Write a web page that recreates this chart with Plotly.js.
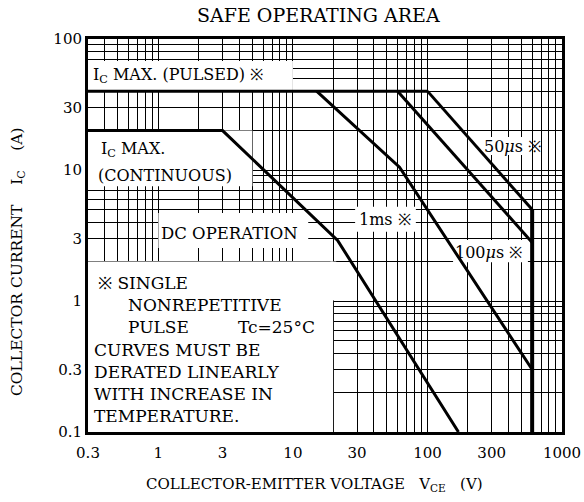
<!DOCTYPE html>
<html><head><meta charset="utf-8">
<script src="https://cdn.plot.ly/plotly-3.0.1.min.js"></script>
<style>body{margin:0;background:#fff}</style></head>
<body><div id="chart" style="width:584px;height:502px"></div>
<script>
// ---- data ----
const pulsedV = [0.3, 100];        const pulsedI = [40, 40];
const dcV     = [0.3, 3, 21.5, 170]; const dcI   = [20, 20, 2.9, 0.1];
const ms1V    = [15, 62, 600];     const ms1I    = [40, 10.5, 0.3];
const us100V  = [60, 600];         const us100I  = [40, 2.8];
const us50V   = [100, 600];        const us50I   = [40, 5];
const vmaxV   = [600, 600];        const vmaxI   = [5, 0.1];

const xTickVals = [0.3, 1, 3, 10, 30, 100, 300, 1000];
const xTickText = ['0.3', '1', '3', '10', '30', '100', '300', '1000'];
const yTickVals = [0.1, 0.3, 1, 3, 10, 30, 100];
const yTickText = ['0.1', '0.3', '1', '3', '10', '30', '100'];
const gridMult  = [1, 2, 3, 4, 5, 6, 7, 8, 9];

function minorGrid(lo, hi) {
  const out = [];
  for (let e = -2; e <= 3; e++) {
    gridMult.forEach(m => {
      const v = +(m * Math.pow(10, e)).toPrecision(3);
      if (v > lo && v < hi) out.push(v);
    });
  }
  return out;
}

const FONT = 'DejaVu Serif';
const black = '#000';

function line(x, y, w) {
  return {x: x, y: y, type: 'scatter', mode: 'lines', hoverinfo: 'skip',
          line: {color: black, width: w}, showlegend: false};
}
const traces = [
  line(pulsedV, pulsedI, 3),
  line(dcV, dcI, 3),
  line(ms1V, ms1I, 3),
  line(us100V, us100I, 3),
  line(us50V, us50I, 3),
  line(vmaxV, vmaxI, 4)
];

// white patches that hide the grid behind the printed labels
function mask(x0, x1, y0, y1) {
  return {type: 'rect', layer: 'between', xref: 'x', yref: 'y',
          x0: x0, x1: x1, y0: y0, y1: y1,
          fillcolor: '#fff', line: {width: 0}};
}
const shapes = [
  mask(0.3, 10, 40, 68),
  mask(0.3, 5, 7.5, 20),
  mask(1, 13, 2.54, 4.7),
  mask(0.3, 19.9, 0.1, 2),
  mask(19, 21, 1.01, 2),
  mask(29, 82, 3.38, 5.24),
  mask(155, 558, 1.98, 2.92),
  mask(245, 590, 13, 17.9)
];

// helper for annotations in pixel-based paper coords
const L = 88, R = 562, T = 39, B = 432;
function px(x) { return (x - L) / (R - L); }
function py(y) { return (B - y) / (B - T); }
function note(text, x, y, size, anchor) {
  return {text: text, xref: 'paper', yref: 'paper', x: px(x), y: py(y),
          xanchor: anchor || 'left', yanchor: 'middle', showarrow: false,
          font: {family: FONT, size: size || 16, color: black}};
}
const annotations = [
  {text: 'SAFE OPERATING AREA', xref: 'paper', yref: 'paper', x: px(318), y: py(15),
   xanchor: 'center', yanchor: 'middle', showarrow: false,
   font: {family: FONT, size: 19, color: black}},
  note('I<sub>C</sub> MAX. (PULSED) ※', 91, 75, 16),
  note('I<sub>C</sub> MAX.', 99, 149, 16),
  note('(CONTINUOUS)', 96, 176, 16),
  note('DC OPERATION', 159, 233, 16.5),
  note('1ms ※', 357, 220, 16),
  note('100<i>μ</i>s ※', 453, 252, 16),
  note('50<i>μ</i>s ※', 482, 146, 16),
  note('※ SINGLE', 96, 283, 17),
  note('NONREPETITIVE', 126, 305, 17),
  note('PULSE', 126, 327, 17),
  note('Tc=25°C', 236, 327, 17),
  note('CURVES MUST BE', 92, 350, 17),
  note('DERATED LINEARLY', 92, 372, 17),
  note('WITH INCREASE IN', 92, 394, 17),
  note('TEMPERATURE.', 92, 416, 17),
  {text: 'COLLECTOR-EMITTER VOLTAGE   V<sub>CE</sub>   (V)', xref: 'paper', yref: 'paper',
   x: px(314), y: py(484), xanchor: 'center', yanchor: 'middle', showarrow: false,
   font: {family: FONT, size: 15, color: black}},
  {text: 'COLLECTOR CURRENT    I<sub>C</sub>    (A)', xref: 'paper', yref: 'paper',
   x: px(18), y: py(262), xanchor: 'center', yanchor: 'middle', showarrow: false,
   textangle: -90, font: {family: FONT, size: 15.5, color: black}}
];

const axisCommon = {
  type: 'log', showgrid: true, gridcolor: '#000', gridwidth: 1,
  showline: true, mirror: true, linecolor: black, linewidth: 3,
  ticks: '', zeroline: false,
  tickfont: {family: FONT, size: 15, color: black},
  tickmode: 'array', fixedrange: true
};

const layout = {
  width: 584, height: 502,
  margin: {l: L, r: 584 - R, t: T, b: 502 - B},
  paper_bgcolor: '#fff', plot_bgcolor: '#fff',
  showlegend: false,
  xaxis: Object.assign({}, axisCommon, {
    range: [Math.log10(0.3), Math.log10(1000)],
    tickvals: xTickVals, ticktext: xTickText, ticklabelstandoff: 5,
    minor: {tickmode: 'array', tickvals: minorGrid(0.3, 1000), showgrid: true,
            gridcolor: '#000', gridwidth: 1, ticks: ''}
  }),
  yaxis: Object.assign({}, axisCommon, {
    range: [Math.log10(0.1), Math.log10(100)],
    tickvals: yTickVals, ticktext: yTickText, ticklabelstandoff: 0,
    minor: {tickmode: 'array', tickvals: minorGrid(0.1, 100), showgrid: true,
            gridcolor: '#000', gridwidth: 1, ticks: ''}
  }),
  shapes: shapes,
  annotations: annotations
};

Plotly.newPlot('chart', traces, layout, {staticPlot: true, displayModeBar: false});
</script>
</body></html>
